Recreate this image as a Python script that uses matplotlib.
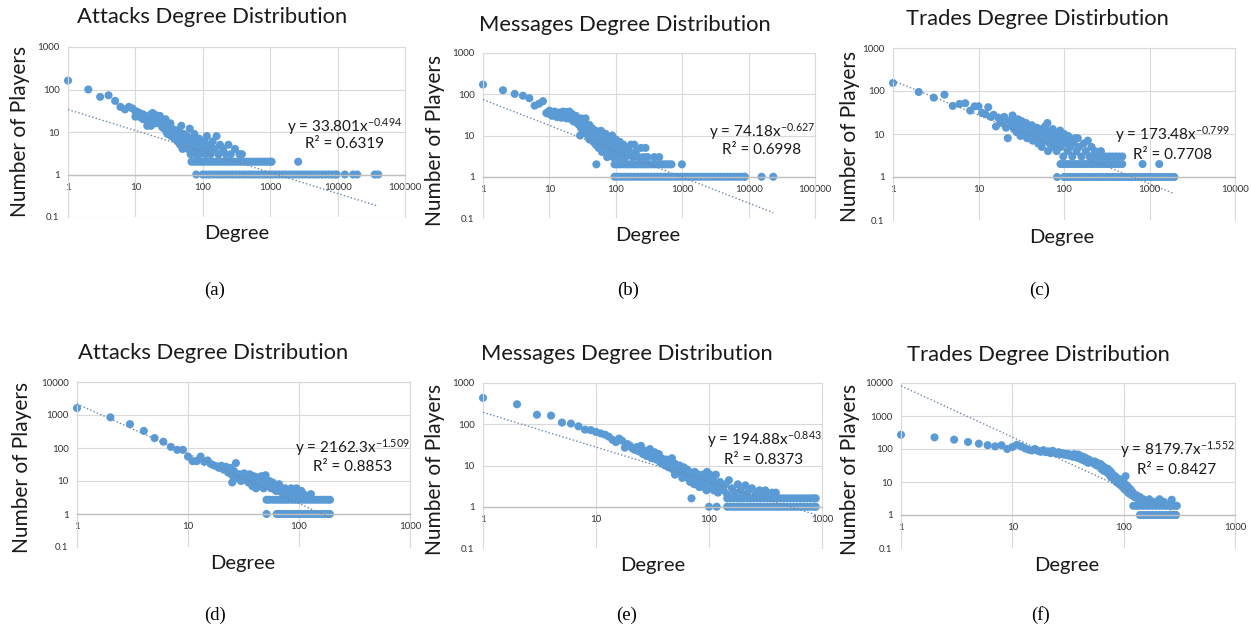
import numpy as np
import matplotlib.pyplot as plt
from matplotlib.ticker import FuncFormatter, FixedLocator

plt.rcParams['font.family'] = ['Lato', 'DejaVu Sans']
plt.rcParams['mathtext.default'] = 'regular'

# --- Data (degree, number of players) ---
# (a) attacks, first set
a_deg = [1, 2, 3, 4, 5, 6, 7, 8, 9, 10, 10, 11, 11, 12, 12, 13, 13, 14, 15, 15, 16, 17, 17,
         18, 18, 19, 20, 20, 21, 22, 23, 24, 25, 26, 27, 28, 29, 30, 30, 32, 33, 34, 35, 36,
         38, 39, 40, 42, 43, 45, 46, 48, 50, 50, 52, 54, 56, 58, 60, 62, 64, 66, 68, 70, 72,
         75, 78, 80, 82, 85, 88, 90, 95, 100, 105, 110, 115, 120, 125, 130, 140, 150, 160,
         170, 180, 200, 220, 240, 260, 300, 350, 380]
a_cnt = [162, 100, 67, 73, 54, 39, 34, 39, 36, 31, 23, 29, 25, 27, 22, 26, 20, 24, 14, 20,
         22, 14, 26, 28, 18, 22, 25, 16, 19, 20, 24, 15, 13, 17, 12, 20, 10, 14, 9, 11, 16, 8,
         12, 10, 7, 9, 11, 6, 8, 10, 5, 14, 7, 4, 9, 6, 5, 8, 4, 6, 12, 3, 5, 7, 4, 9, 3, 5, 6,
         4, 7, 3, 5, 4, 6, 3, 8, 4, 5, 3, 6, 4, 8, 3, 5, 4, 3, 5, 3, 4, 3, 3]
a_two = [68, 75, 82, 90, 98, 107, 117, 128, 140, 153, 167, 183, 200, 220, 240, 262, 287, 314,
         343, 375, 410, 448, 490, 536, 586, 640, 700, 766, 837, 915, 1000, 1050, 2600]
a_one = [80, 100, 112, 125, 140, 157, 176, 197, 221, 248, 277, 311, 348, 390, 436, 489, 547,
         613, 687, 769, 861, 965, 1080, 1210, 1355, 1518, 1700, 1904, 2133, 2389, 2676, 2997,
         3356, 3759, 4210, 4716, 5281, 5915, 6625, 7420, 8310, 9307, 9700, 12800, 17000,
         19500, 35600, 40000]
a_fit = [33.801, -0.494, 0.6319]

# (b) messages, first set
b_deg = [1, 2, 3, 4, 5, 6, 7, 8, 9, 10, 10, 11, 11, 12, 12, 13, 13, 14, 14, 15, 15, 16, 16,
         17, 17, 18, 18, 19, 20, 20, 21, 22, 22, 23, 24, 25, 26, 27, 28, 29, 30, 30, 32, 33,
         34, 35, 36, 38, 40, 40, 42, 44, 45, 46, 48, 50, 50, 51, 52, 54, 55, 56, 58, 60, 60,
         62, 64, 65, 68, 70, 72, 74, 75, 78, 80, 82, 85, 88, 90, 95, 100, 100, 105, 110, 115,
         120, 125, 130, 140, 150, 160, 170, 180, 190, 200, 220, 240, 260, 280, 300, 380, 450]
b_cnt = [172, 125, 102, 92, 80, 53, 59, 68, 35, 40, 33, 36, 30, 38, 32, 34, 28, 36, 30, 33,
         27, 38, 29, 35, 31, 37, 26, 33, 38, 30, 25, 28, 33, 22, 24, 30, 20, 23, 18, 10, 26,
         15, 20, 12, 16, 26, 14, 10, 18, 8, 12, 15, 9, 7, 11, 13, 6, 2, 10, 8, 5, 12, 9, 13, 6,
         4, 10, 7, 5, 11, 8, 3, 6, 9, 4, 7, 5, 10, 3, 6, 4, 8, 3, 5, 7, 3, 4, 6, 3, 5, 4, 6, 3,
         6, 4, 3, 5, 3, 5, 3, 3, 3]
b_two = [96, 105, 115, 126, 138, 151, 165, 181, 198, 217, 238, 260, 285, 312, 342, 374, 410,
         449, 491, 538, 590, 640, 690, 990]
b_one = [96, 108, 121, 136, 152, 171, 192, 215, 241, 270, 303, 340, 381, 428, 480, 538, 604,
         677, 760, 852, 956, 1072, 1203, 1350, 1514, 1699, 1906, 2138, 2399, 2691, 3019, 3387,
         3800, 4264, 4783, 5367, 6021, 6755, 7579, 8500, 8800, 15700, 23500]
b_fit = [74.18, -0.627, 0.6998]

# (c) trades, first set
c_deg = [1, 2, 3, 4, 5, 6, 7, 8, 9, 10, 11, 12, 13, 14, 15, 16, 17, 18, 19, 20, 21, 22, 23,
         24, 25, 26, 27, 28, 29, 30, 31, 32, 33, 34, 35, 36, 37, 38, 40, 42, 43, 45, 46, 48,
         50, 50, 52, 54, 55, 56, 58, 60, 60, 62, 64, 65, 66, 68, 70, 72, 74, 75, 78, 80, 82,
         85, 88, 90, 92, 95, 98, 100, 100, 105, 110, 112, 118, 120, 125, 130, 135, 140, 145,
         150, 160, 170, 180, 190, 200, 210, 230, 250, 270]
c_cnt = [154, 95, 70, 82, 45, 50, 52, 35, 44, 44, 31, 29, 42, 25, 28, 15, 24, 20, 18, 25, 14,
         8, 20, 17, 27, 13, 19, 11, 22, 15, 9, 20, 12, 16, 10, 18, 8, 13, 11, 16, 7, 12, 9, 14,
         6, 10, 13, 8, 5, 11, 9, 15, 7, 12, 18, 4, 9, 6, 11, 8, 13, 5, 10, 7, 4, 9, 6, 12, 5, 8,
         3, 10, 6, 7, 4, 9, 5, 7, 3, 6, 8, 4, 8, 5, 3, 6, 4, 7, 3, 5, 4, 3, 4]
c_three = [200, 218, 238, 260, 284, 310, 338, 369, 403, 440, 480]
c_two = [91, 99, 108, 118, 129, 141, 154, 168, 183, 200, 218, 238, 260, 284, 310, 338, 369,
         403, 440, 480, 830, 1300]
c_one = [83, 100, 109, 119, 130, 142, 155, 169, 184, 201, 219, 239, 261, 285, 311, 339, 370,
         404, 441, 481, 525, 573, 625, 682, 744, 812, 886, 967, 1055, 1151, 1256, 1370, 1495,
         1631, 1780, 1950]
c_fit = [173.48, -0.799, 0.7708]

# (d) attacks, second set
d_deg = [1, 2, 3, 4, 5, 6, 7, 8, 9, 10, 11, 12, 13, 14, 15, 16, 17, 18, 19, 20, 21, 22, 23,
         24, 25, 25, 26, 27, 28, 29, 30, 31, 32, 33, 34, 35, 36, 37, 38, 39, 40, 41, 42, 43,
         44, 45, 46, 47, 48, 49, 50, 52, 54, 56, 58, 60, 62, 64, 66, 68, 70, 72, 75, 78, 80,
         85, 90, 95, 100, 105, 110, 120, 128]
d_cnt = [1620, 850, 530, 330, 200, 155, 108, 88, 88, 55, 40, 40, 55, 38, 42, 33, 30, 28, 25,
         29, 22, 27, 18, 25, 9, 15, 20, 35, 12, 16, 10, 14, 17, 11, 15, 9, 16, 12, 7, 14, 10, 6,
         13, 8, 11, 7, 14, 9, 6, 12, 15, 8, 10, 6, 9, 7, 5, 6, 8, 5, 6, 4, 6, 5, 4, 6, 4, 6, 4,
         5, 4, 3.5, 4]
d_three = [51, 54, 58, 62, 66, 70, 75, 80, 86, 92, 98, 105, 112, 120, 128, 137, 147, 157, 168,
           180, 190]
d_one = [51, 63, 66, 70, 75, 80, 86, 92, 98, 105, 112, 120, 128, 137, 147, 157, 168, 180, 190]
d_fit = [2162.3, -1.509, 0.8853]

# (e) messages, second set
e_deg = [1, 2, 3, 4, 5, 6, 7, 8, 9, 10, 11, 12, 13, 14, 15, 16, 17, 18, 19, 20, 21, 22, 23,
         24, 25, 26, 27, 28, 29, 30, 31, 32, 33, 34, 35, 36, 37, 38, 39, 40, 41, 42, 44, 45,
         46, 47, 48, 50, 50, 52, 54, 55, 57, 58, 60, 62, 64, 65, 67, 68, 70, 70, 72, 74, 75,
         78, 80, 82, 84, 86, 88, 90, 92, 95, 96, 100, 100, 102, 105, 108, 110, 112, 115, 117,
         118, 120, 125, 130, 135, 140, 145, 150, 160, 170, 180, 190, 200, 210, 220, 240, 260,
         280, 300, 315, 340, 360, 390]
e_cnt = [435, 305, 170, 162, 110, 104, 89, 74, 72, 65, 60, 56, 50, 42, 37, 45, 40, 27, 33, 30,
         26, 24, 28, 22, 30, 19, 23, 17, 20, 25, 15, 18, 21, 14, 16, 19, 12, 15, 11, 13, 10,
         14, 9, 12, 10, 15, 8, 11, 6, 9, 7, 10, 8, 5, 9, 6, 8, 5, 7, 4, 1.6, 6, 5, 3.5, 7, 4.5,
         6, 3, 5, 4, 6, 3, 5, 2.5, 7, 4, 1, 6, 3, 5, 2.5, 4, 6, 1, 3, 2.2, 4, 3, 2.5, 3.5, 2,
         4.4, 2.8, 2.2, 3.5, 2.5, 2, 3.3, 2.2, 2.8, 2, 2.5, 2.2, 2.5, 2, 2.2, 2.2]
e_upper = [145, 155, 166, 178, 190, 203, 218, 233, 249, 267, 285, 305, 327, 350, 374, 400,
           428, 458, 490, 525, 561, 600, 643, 688, 736, 787, 842, 880]
e_one = [145, 155, 166, 178, 190, 203, 218, 233, 249, 267, 285, 305, 327, 350, 374, 400, 428,
         458, 490, 525, 561, 600, 643, 688, 736, 787, 842, 880]
e_fit = [194.88, -0.843, 0.8373]

# (f) trades, second set
f_deg = [1, 2, 3, 4, 5, 6, 7, 8, 9, 10, 11, 12, 13, 14, 15, 16, 17, 18, 19, 20, 21, 22, 23,
         24, 25, 26, 27, 28, 29, 30, 31, 32, 33, 34, 35, 36, 37, 38, 39, 40, 41, 42, 43, 44,
         45, 46, 47, 48, 49, 50, 52, 54, 55, 57, 58, 60, 62, 63, 65, 66, 68, 70, 72, 74, 75,
         77, 78, 80, 82, 84, 86, 88, 90, 92, 94, 96, 98, 100, 102, 104, 106, 108, 110, 112,
         115, 118, 120, 125, 130, 135, 140, 145, 150, 160, 170, 190, 210, 230, 270]
f_cnt = [270, 225, 192, 163, 145, 130, 120, 130, 100, 115, 135, 120, 105, 95, 90, 100, 88, 82,
         92, 80, 85, 75, 88, 78, 72, 80, 70, 75, 68, 72, 65, 70, 62, 66, 58, 70, 60, 55, 68,
         52, 62, 48, 58, 45, 55, 42, 50, 38, 47, 44, 40, 36, 42, 32, 38, 30, 35, 25, 30, 22,
         27, 20, 25, 17, 22, 14, 19, 16, 12, 15, 10, 13, 9, 12, 8, 11, 7, 10, 6, 15, 8, 5, 7,
         4.5, 6, 4, 5, 3.5, 4, 3, 3.5, 2.8, 3, 2.5, 3, 2.5, 3, 2.5, 2.9]
f_two = [122, 130, 139, 149, 159, 170, 182, 195, 209, 223, 239, 256, 274, 293, 300]
f_one = [140, 149, 159, 170, 182, 195, 209, 223, 239, 256, 274, 293, 295]
f_fit = [8179.7, -1.552, 0.8427]

W, H = 1251, 630
BLUE = '#5B9BD5'


def fx(x):
    return x / W


def fy(y):
    return 1 - y / H


def draw_panel(rect, deg, cnt, bands, fit, xmax, ymax, title, title_pos, ylab_pos,
               xlab_pos, eq_pos, r2_pos, tag, tag_pos):
    l, t, r, b = rect
    ax = fig.add_axes([fx(l), fy(b), (r - l) / W, (b - t) / H])
    xs = list(deg)
    ys = list(cnt)
    for level, band in bands:
        xs += band
        ys += [level] * len(band)
    ax.scatter(xs, ys, s=34, color=BLUE, edgecolors='none', zorder=2, clip_on=False)

    # power-law trendline from the printed coefficients
    xx = np.logspace(0, np.log10(max(xs)), 100)
    ax.plot(xx, fit[0] * xx ** fit[1], color='#6A87AE', lw=1.0,
            linestyle=(0, (1, 1.6)), zorder=3)

    ax.set_xscale('log')
    ax.set_yscale('log')
    ax.set_xlim(1, xmax)
    ax.set_ylim(0.1, ymax)
    ax.xaxis.set_major_locator(FixedLocator(10.0 ** np.arange(0, np.log10(xmax) + 1)))
    ax.yaxis.set_major_locator(FixedLocator(10.0 ** np.arange(-1, np.log10(ymax) + 1)))
    ax.minorticks_off()
    fmt = FuncFormatter(lambda v, p: '%g' % v)
    ax.xaxis.set_major_formatter(fmt)
    ax.yaxis.set_major_formatter(fmt)
    ax.tick_params(length=0, labelsize=7, labelcolor='#333333', pad=6)
    ax.grid(True, which='major', color='#D9D9D9', lw=0.8)
    ax.set_axisbelow(True)
    for side in ['top', 'left', 'right']:
        ax.spines[side].set_color('#D9D9D9')
        ax.spines[side].set_linewidth(0.8)
    # horizontal axis crosses at 1, as in the spreadsheet chart
    ax.spines['bottom'].set_position(('data', 1))
    ax.spines['bottom'].set_color('#BFBFBF')
    ax.spines['bottom'].set_linewidth(1.0)

    fig.text(fx(title_pos[0]), fy(title_pos[1]), title, ha='center', va='center',
             fontsize=15.8, color='#1a1a1a')
    fig.text(fx(ylab_pos[0]), fy(ylab_pos[1]), 'Number of Players', ha='center',
             va='center', rotation=90, fontsize=15, color='#1a1a1a')
    fig.text(fx(xlab_pos[0]), fy(xlab_pos[1]), 'Degree', ha='center', va='center',
             fontsize=14.5, color='#1a1a1a')
    eq = 'y = %sx$^{%s}$' % (fit[0], fit[1])
    fig.text(fx(eq_pos[0]), fy(eq_pos[1]), eq, ha='center', va='center', fontsize=11,
             color='#1a1a1a')
    fig.text(fx(r2_pos[0]), fy(r2_pos[1]), 'R² = %.4f' % fit[2], ha='center', va='center',
             fontsize=11, color='#1a1a1a')
    fig.text(fx(tag_pos[0]), fy(tag_pos[1]), tag, ha='center', va='center', fontsize=13.5,
             family='Liberation Serif', color='black')
    return ax


fig = plt.figure(figsize=(12.51, 6.30), dpi=100)

panels = [
    ((68, 47, 405, 217), a_deg, a_cnt,
     [(2, a_two), (1, a_one)], a_fit, 1e5, 1e3,
     'Attacks Degree Distribution', (212, 17), (20, 131), (237, 233), (345, 127), (345, 144),
     '(a)', (215, 290)),
    ((483, 53, 815, 218), b_deg, b_cnt,
     [(2, b_two), (1, b_one)], b_fit, 1e5, 1e3,
     'Messages Degree Distribution', (625, 25), (435, 140), (648, 235), (762, 132), (762, 150),
     '(b)', (628, 290)),
    ((893, 48, 1235, 220), c_deg, c_cnt,
     [(3, c_three), (2, c_two), (1, c_one)], c_fit, 1e4, 1e3,
     'Trades Degree Distirbution', (1037, 19), (850, 136), (1062, 237), (1172, 135), (1173, 155),
     '(c)', (1040, 290)),
    ((77, 382, 410, 547), d_deg, d_cnt,
     [(2.7, d_three), (1, d_one)], d_fit, 1e3, 1e4,
     'Attacks Degree Distribution', (213, 353), (22, 467), (243, 563), (352, 448), (353, 467),
     '(d)', (215, 615)),
    ((483, 383, 822, 548), e_deg, e_cnt,
     [(1.6, e_upper), (1, e_one)], e_fit, 1e3, 1e3,
     'Messages Degree Distribution', (627, 354), (435, 469), (653, 565), (764, 440), (764, 460),
     '(e)', (627, 615)),
    ((901, 383, 1235, 548), f_deg, f_cnt,
     [(1.9, f_two), (1, f_one)], f_fit, 1e3, 1e4,
     'Trades Degree Distribution', (1038, 355), (850, 469), (1067, 565), (1177, 450), (1177, 470),
     '(f)', (1041, 615)),
]

for p in panels:
    draw_panel(*p)

fig.savefig('out.png', dpi=100, facecolor='white')
